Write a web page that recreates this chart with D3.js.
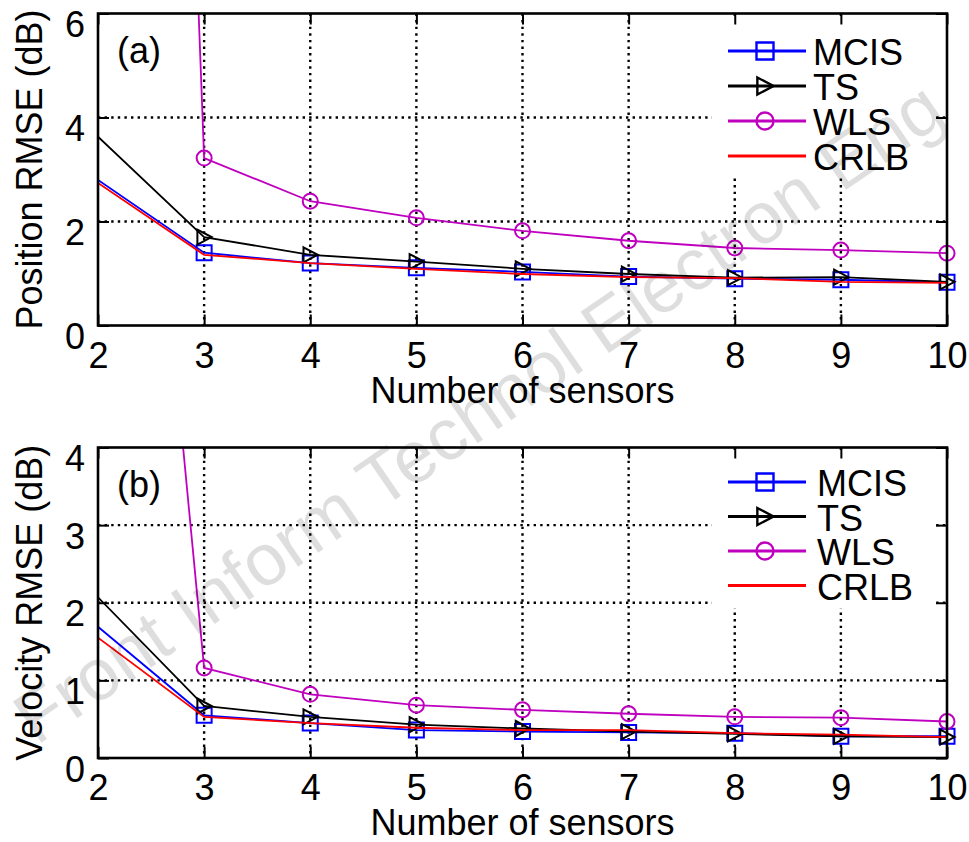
<!DOCTYPE html>
<html>
<head>
<meta charset="utf-8">
<script src="https://cdn.jsdelivr.net/npm/d3@7"></script>
<style>
  html, body { margin: 0; padding: 0; background: #fff; }
  svg { display: block; }
  text { font-family: "Liberation Sans", Arial, Helvetica, sans-serif; fill: #000; }
</style>
</head>
<body>
<svg id="chart" width="969" height="842"></svg>
<script>
// ---------------- data ----------------
const sensors = [2, 3, 4, 5, 6, 7, 8, 9, 10];
const seriesNames = ["MCIS", "TS", "WLS", "CRLB"];

// Panel (a): Position RMSE (dB)
const posMCIS = [2.80, 1.40, 1.20, 1.11, 1.03, 0.94, 0.90, 0.88, 0.83];
const posTS   = [3.63, 1.70, 1.36, 1.23, 1.09, 0.99, 0.92, 0.93, 0.84];
const posWLS  = [57.0, 3.22, 2.39, 2.07, 1.82, 1.63, 1.49, 1.45, 1.39];
const posCRLB = [2.74, 1.36, 1.20, 1.09, 0.99, 0.93, 0.91, 0.84, 0.82];

// Panel (b): Velocity RMSE (dB)
const velMCIS = [1.69, 0.55, 0.45, 0.36, 0.34, 0.33, 0.32, 0.28, 0.28];
const velTS   = [2.07, 0.67, 0.53, 0.43, 0.38, 0.34, 0.31, 0.28, 0.27];
const velWLS  = [15.5, 1.16, 0.82, 0.68, 0.62, 0.57, 0.53, 0.52, 0.47];
const velCRLB = [1.55, 0.53, 0.45, 0.39, 0.36, 0.36, 0.32, 0.30, 0.27];

const xTickValues = [2, 3, 4, 5, 6, 7, 8, 9, 10];
const posTickValues = [0, 2, 4, 6];
const velTickValues = [0, 1, 2, 3, 4];

const panelLabels = ["(a)", "(b)"];
const yTitles = ["Position RMSE (dB)", "Velocity RMSE (dB)"];
const xTitle = "Number of sensors";
const watermark = "Front Inform Technol Electron Eng";

// ---------------- styles ----------------
const colors = { MCIS: "#0000ff", TS: "#000000", WLS: "#bf00bf", CRLB: "#ff0000" };
const markers = { MCIS: "square", TS: "triangle", WLS: "circle", CRLB: null };

const svg = d3.select("#chart");
const FS = 36;
const left = 98, right = 947;

function markerPath(type, s) {
  if (type === "square") return `M${-s/2},${-s/2}H${s/2}V${s/2}H${-s/2}Z`;
  if (type === "triangle") return `M${-s*0.45},${-s/2}L${s*0.5},0L${-s*0.45},${s/2}Z`;
  if (type === "circle") { const r = s/2; return `M${r},0A${r},${r} 0 1,1 ${-r},0A${r},${r} 0 1,1 ${r},0Z`; }
  return null;
}

function drawPanel(idx, cfg) {
  const g = svg.append("g");
  const x = d3.scaleLinear().domain([2, 10]).range([left, right]);
  const y = d3.scaleLinear().domain([0, cfg.yMax]).range([cfg.bottom, cfg.top]);
  const clipId = "clip" + idx;
  svg.append("clipPath").attr("id", clipId).append("rect")
    .attr("x", left).attr("y", cfg.top).attr("width", right - left + 12).attr("height", cfg.bottom - cfg.top);

  // grid (dotted)
  const grid = g.append("g").attr("stroke", "#000").attr("stroke-width", 2.4)
    .attr("stroke-dasharray", "2.4,4.2").attr("fill", "none");
  xTickValues.slice(1, -1).forEach(v => {
    grid.append("line").attr("x1", x(v)).attr("x2", x(v)).attr("y1", cfg.top).attr("y2", cfg.bottom);
  });
  cfg.ticks.slice(1, -1).forEach(v => {
    grid.append("line").attr("x1", left).attr("x2", right).attr("y1", y(v)).attr("y2", y(v));
  });

  // legend background (hides grid)
  g.append("rect").attr("x", 712).attr("y", cfg.top + 5).attr("width", 220).attr("height", cfg.legendBottom - cfg.top - 5)
    .attr("fill", "#fff");

  // series
  const data = cfg.series;
  const plot = g.append("g").attr("clip-path", `url(#${clipId})`);
  const line = d3.line().x((d, i) => x(sensors[i])).y(d => y(d));
  seriesNames.forEach((name, k) => {
    plot.append("path").datum(data[k]).attr("d", line)
      .attr("fill", "none").attr("stroke", colors[name]).attr("stroke-width", 1.8);
    if (markers[name]) {
      plot.selectAll(null).data(data[k].map((d, i) => ({ v: d, s: sensors[i] })).filter(d => d.s > 2))
        .enter().append("path")
        .attr("transform", d => `translate(${x(d.s)},${y(d.v)})`)
        .attr("d", markerPath(markers[name], 15))
        .attr("fill", "none").attr("stroke", colors[name]).attr("stroke-width", 2);
    }
  });

  // axes box
  g.append("rect").attr("x", left).attr("y", cfg.top).attr("width", right - left).attr("height", cfg.bottom - cfg.top)
    .attr("fill", "none").attr("stroke", "#000").attr("stroke-width", 2.6);

  // inward ticks
  const tl = 11;
  const axBottom = d3.axisBottom(x).tickValues(xTickValues).tickSize(-tl).tickFormat(d => d).tickPadding(16);
  const axTop = d3.axisTop(x).tickValues(xTickValues).tickSize(-tl).tickFormat("");
  const axLeft = d3.axisLeft(y).tickValues(cfg.ticks).tickSize(-tl).tickFormat(d => d).tickPadding(24);
  const axRight = d3.axisRight(y).tickValues(cfg.ticks).tickSize(-tl).tickFormat("");

  const gb = g.append("g").attr("transform", `translate(0,${cfg.bottom})`).call(axBottom);
  const gt = g.append("g").attr("transform", `translate(0,${cfg.top})`).call(axTop);
  const gl = g.append("g").attr("transform", `translate(${left},0)`).call(axLeft);
  const gr = g.append("g").attr("transform", `translate(${right},0)`).call(axRight);
  [gb, gt, gl, gr].forEach(a => {
    a.select(".domain").remove();
    a.selectAll(".tick line").attr("stroke", "#000").attr("stroke-width", 2);
    a.selectAll("text").style("font-size", FS + "px").attr("fill", "#000")
      .style("font-family", '"Liberation Sans", Arial, sans-serif');
  });
  gb.selectAll(".tick text").attr("dy", null).attr("y", 42).attr("dominant-baseline", "alphabetic");
  gl.selectAll(".tick text").attr("dy", null).attr("x", -13).attr("y", 23).attr("dominant-baseline", "alphabetic");

  // titles
  g.append("text").attr("x", (left + right) / 2).attr("y", cfg.bottom + 77)
    .attr("text-anchor", "middle").style("font-size", FS + "px").text(xTitle);
  g.append("text").attr("transform", `translate(42,${(cfg.top + cfg.bottom) / 2}) rotate(-90)`)
    .attr("text-anchor", "middle").style("font-size", FS + "px").text(yTitles[idx]);
  g.append("text").attr("x", left + 19).attr("y", cfg.top + 49)
    .style("font-size", FS + "px").text(panelLabels[idx]);

  // legend
  const lg = g.append("g");
  seriesNames.forEach((name, k) => {
    const ry = cfg.legendTop + k * cfg.legendStep;
    lg.append("line").attr("x1", 728).attr("x2", 806).attr("y1", ry).attr("y2", ry)
      .attr("stroke", colors[name]).attr("stroke-width", 3);
    if (markers[name]) {
      lg.append("path").attr("transform", `translate(765,${ry})`)
        .attr("d", markerPath(markers[name], 17))
        .attr("fill", "none").attr("stroke", colors[name]).attr("stroke-width", 2.4);
    }
    lg.append("text").attr("x", 813 + (idx === 1 ? 4 : 0)).attr("y", ry + 14)
      .style("font-size", FS + "px").text(name);
  });
}

drawPanel(0, {
  top: 13.5, bottom: 325.5, yMax: 6, ticks: posTickValues,
  series: [posMCIS, posTS, posWLS, posCRLB],
  legendTop: 51, legendStep: 35, legendBottom: 178
});
drawPanel(1, {
  top: 447.5, bottom: 758, yMax: 4, ticks: velTickValues,
  series: [velMCIS, velTS, velWLS, velCRLB],
  legendTop: 482, legendStep: 34.5, legendBottom: 608
});

// watermark
svg.append("text")
  .attr("transform", "translate(478,412) rotate(-34.5)")
  .attr("text-anchor", "middle").attr("dominant-baseline", "central")
  .style("font-size", "73px").style("fill", "#000").style("fill-opacity", 0.13)
  .text(watermark);
</script>
</body>
</html>
